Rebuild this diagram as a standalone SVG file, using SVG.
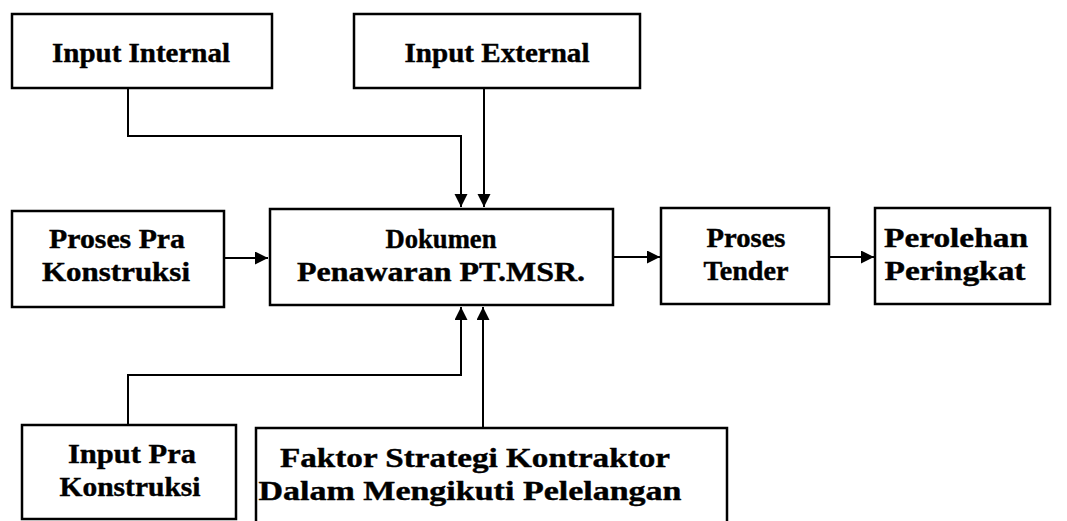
<svg xmlns="http://www.w3.org/2000/svg" width="1067" height="521" viewBox="0 0 1067 521">
  <style>
    .box { fill: #fff; stroke: #000; stroke-width: 2.5; }
    .lbl { font-family: "Liberation Serif", "Times New Roman", serif; font-weight: bold; font-size: 27px; fill: #000; stroke: #000; stroke-width: 0.4; text-anchor: middle; }
    .con { fill: none; stroke: #000; stroke-width: 2; }
  </style>
  <defs>
    <marker id="arr" markerUnits="userSpaceOnUse" markerWidth="14" markerHeight="14" refX="13" refY="6.5" orient="auto">
      <path d="M0,0 L13,6.5 L0,13 z" fill="#000"/>
    </marker>
  </defs>
  <rect width="1067" height="521" fill="#fff"/>

  <g id="connectors">
    <polyline class="con" points="128,88 128,136 461,136 461,207" marker-end="url(#arr)"/>
    <polyline class="con" points="484,88 484,207" marker-end="url(#arr)"/>
    <polyline class="con" points="224,258 268,258" marker-end="url(#arr)"/>
    <polyline class="con" points="613,257 660,257" marker-end="url(#arr)"/>
    <polyline class="con" points="829,257 874,257" marker-end="url(#arr)"/>
    <polyline class="con" points="128,425 128,375 461,375 461,307" marker-end="url(#arr)"/>
    <polyline class="con" points="483,428 483,307" marker-end="url(#arr)"/>
  </g>

  <g id="input-internal">
    <rect class="box" x="12" y="14" width="260" height="74"/>
    <text class="lbl" x="141" y="62" textLength="178" lengthAdjust="spacingAndGlyphs">Input Internal</text>
  </g>
  <g id="input-external">
    <rect class="box" x="354" y="14" width="286" height="74"/>
    <text class="lbl" x="497" y="62" textLength="185" lengthAdjust="spacingAndGlyphs">Input External</text>
  </g>
  <g id="proses-pra-konstruksi">
    <rect class="box" x="12" y="211" width="212" height="96"/>
    <text class="lbl" x="117" y="248" textLength="136" lengthAdjust="spacingAndGlyphs">Proses Pra</text>
    <text class="lbl" x="116" y="281" textLength="148" lengthAdjust="spacingAndGlyphs">Konstruksi</text>
  </g>
  <g id="dokumen-penawaran">
    <rect class="box" x="270" y="209" width="343" height="96"/>
    <text class="lbl" x="441" y="248" textLength="111" lengthAdjust="spacingAndGlyphs">Dokumen</text>
    <text class="lbl" x="441" y="281" textLength="288" lengthAdjust="spacingAndGlyphs">Penawaran PT.MSR.</text>
  </g>
  <g id="proses-tender">
    <rect class="box" x="661" y="208" width="168" height="96"/>
    <text class="lbl" x="746" y="247" textLength="79" lengthAdjust="spacingAndGlyphs">Proses</text>
    <text class="lbl" x="746" y="280" textLength="85" lengthAdjust="spacingAndGlyphs">Tender</text>
  </g>
  <g id="perolehan-peringkat">
    <rect class="box" x="875" y="208" width="175" height="96"/>
    <text class="lbl" x="956" y="247" textLength="144" lengthAdjust="spacingAndGlyphs">Perolehan</text>
    <text class="lbl" x="955" y="280" textLength="141" lengthAdjust="spacingAndGlyphs">Peringkat</text>
  </g>
  <g id="input-pra-konstruksi">
    <rect class="box" x="22" y="425" width="214" height="94"/>
    <text class="lbl" x="132" y="463" textLength="128" lengthAdjust="spacingAndGlyphs">Input Pra</text>
    <text class="lbl" x="130" y="496" textLength="141" lengthAdjust="spacingAndGlyphs">Konstruksi</text>
  </g>
  <g id="faktor-strategi">
    <rect class="box" x="256" y="428" width="471" height="100"/>
    <text class="lbl" x="475" y="467" textLength="390" lengthAdjust="spacingAndGlyphs">Faktor Strategi Kontraktor</text>
    <text class="lbl" x="470" y="500" textLength="423" lengthAdjust="spacingAndGlyphs">Dalam Mengikuti Pelelangan</text>
  </g>
</svg>
